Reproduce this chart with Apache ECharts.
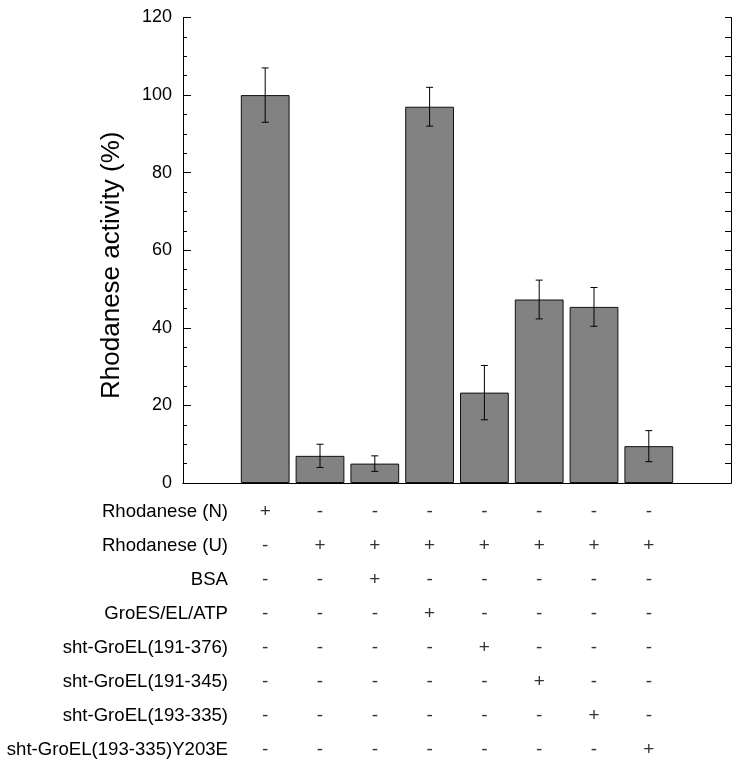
<!DOCTYPE html>
<html>
<head>
<meta charset="utf-8">
<script src="https://cdn.jsdelivr.net/npm/echarts@6/dist/echarts.min.js"></script>
<style>html,body{margin:0;padding:0;background:#fff;}#c{width:739px;height:768px;}</style>
</head>
<body>
<div id="c"></div>
<script>
// ---- data ----
const lanes = ['Lane 1','Lane 2','Lane 3','Lane 4','Lane 5','Lane 6','Lane 7','Lane 8'];
const activity = [100, 7, 5, 97, 23.3, 47.3, 45.4, 9.5];
const errorBars = [7, 3, 2, 5, 7, 5, 5, 4];
const conditions = ['Rhodanese (N)','Rhodanese (U)','BSA','GroES/EL/ATP','sht-GroEL(191-376)','sht-GroEL(191-345)','sht-GroEL(193-335)','sht-GroEL(193-335)Y203E'];
const presence = [
  ['+','-','-','-','-','-','-','-'],
  ['-','+','+','+','+','+','+','+'],
  ['-','-','+','-','-','-','-','-'],
  ['-','-','-','+','-','-','-','-'],
  ['-','-','-','-','+','-','-','-'],
  ['-','-','-','-','-','+','-','-'],
  ['-','-','-','-','-','-','+','-'],
  ['-','-','-','-','-','-','-','+']
];
const yTicks = {min: 0, max: 120, interval: 20};

// ---- build ----
const slots = [' '].concat(lanes, ['  ']);
const barData = [null].concat(activity, [null]);
const errData = activity.map((v, i) => [i + 1, v - errorBars[i], v + errorBars[i]]);
const tableData = [];
presence.forEach((row, r) => row.forEach((s, c) => tableData.push([c + 1, r, s])));

const FONT = 'Liberation Sans, Arial, Helvetica, sans-serif';
const chart = echarts.init(document.getElementById('c'));
chart.setOption({
  animation: false,
  backgroundColor: '#fff',
  grid: [
    {left: 183, right: 8, top: 17.5, bottom: 285},
    {left: 183, right: 8, top: 495, bottom: 1}
  ],
  xAxis: [
    {gridIndex: 0, type: 'category', data: slots, position: 'bottom',
     axisLine: {lineStyle: {color: '#000', width: 1}}, axisTick: {show: false}, axisLabel: {show: false}},
    {gridIndex: 0, type: 'category', data: slots, position: 'top',
     axisLine: {lineStyle: {color: '#000', width: 1}}, axisTick: {show: false}, axisLabel: {show: false}},
    {gridIndex: 1, type: 'category', data: slots, show: false}
  ],
  yAxis: [
    {gridIndex: 0, type: 'value', min: yTicks.min, max: yTicks.max, interval: yTicks.interval, position: 'left',
     name: 'Rhodanese activity (%)', nameLocation: 'middle', nameGap: 58,
     nameTextStyle: {fontSize: 26, color: '#000', fontFamily: FONT, padding: [0, 30, 0, 0]},
     axisLine: {show: true, lineStyle: {color: '#000', width: 1}},
     axisTick: {show: true, inside: true, length: 8, lineStyle: {color: '#000'}},
     minorTick: {show: true, splitNumber: 4, length: 4, lineStyle: {color: '#000'}},
     splitLine: {show: false},
     axisLabel: {fontSize: 18, color: '#000', fontFamily: FONT, margin: 11}},
    {gridIndex: 0, type: 'value', min: yTicks.min, max: yTicks.max, interval: yTicks.interval, position: 'right',
     axisLine: {show: true, lineStyle: {color: '#000', width: 1}},
     axisTick: {show: true, inside: true, length: 6, lineStyle: {color: '#000'}},
     minorTick: {show: true, splitNumber: 4, length: 6, lineStyle: {color: '#000'}},
     splitLine: {show: false}, axisLabel: {show: false}},
    {gridIndex: 1, type: 'category', data: conditions, inverse: true,
     axisLine: {show: false}, axisTick: {show: false}, splitLine: {show: false},
     axisLabel: {fontSize: 18.6, color: '#000', fontFamily: FONT, margin: -45, align: 'right'}}
  ],
  series: [
    {type: 'bar', xAxisIndex: 0, yAxisIndex: 0, data: barData, barWidth: '89%',
     itemStyle: {color: '#828282', borderColor: '#111', borderWidth: 1},
     silent: true},
    {type: 'custom', xAxisIndex: 0, yAxisIndex: 0, data: errData, encode: {x: 0, y: [1, 2]},
     z: 10, silent: true,
     renderItem: function (params, api) {
       const x = api.value(0), lo = api.value(1), hi = api.value(2);
       const p1 = api.coord([x, lo]), p2 = api.coord([x, hi]);
       const w = 3.5;
       const st = {stroke: '#000', lineWidth: 1};
       return {type: 'group', children: [
         {type: 'line', shape: {x1: p1[0], y1: p1[1], x2: p2[0], y2: p2[1]}, style: st},
         {type: 'line', shape: {x1: p1[0] - w, y1: p1[1], x2: p1[0] + w, y2: p1[1]}, style: st},
         {type: 'line', shape: {x1: p2[0] - w, y1: p2[1], x2: p2[0] + w, y2: p2[1]}, style: st}
       ]};
     }},
    {type: 'scatter', xAxisIndex: 2, yAxisIndex: 2, data: tableData, symbolSize: 0, silent: true,
     label: {show: true, position: 'inside', formatter: p => p.value[2],
             fontSize: 19, color: '#000', fontFamily: FONT}}
  ]
});
</script>
</body>
</html>
